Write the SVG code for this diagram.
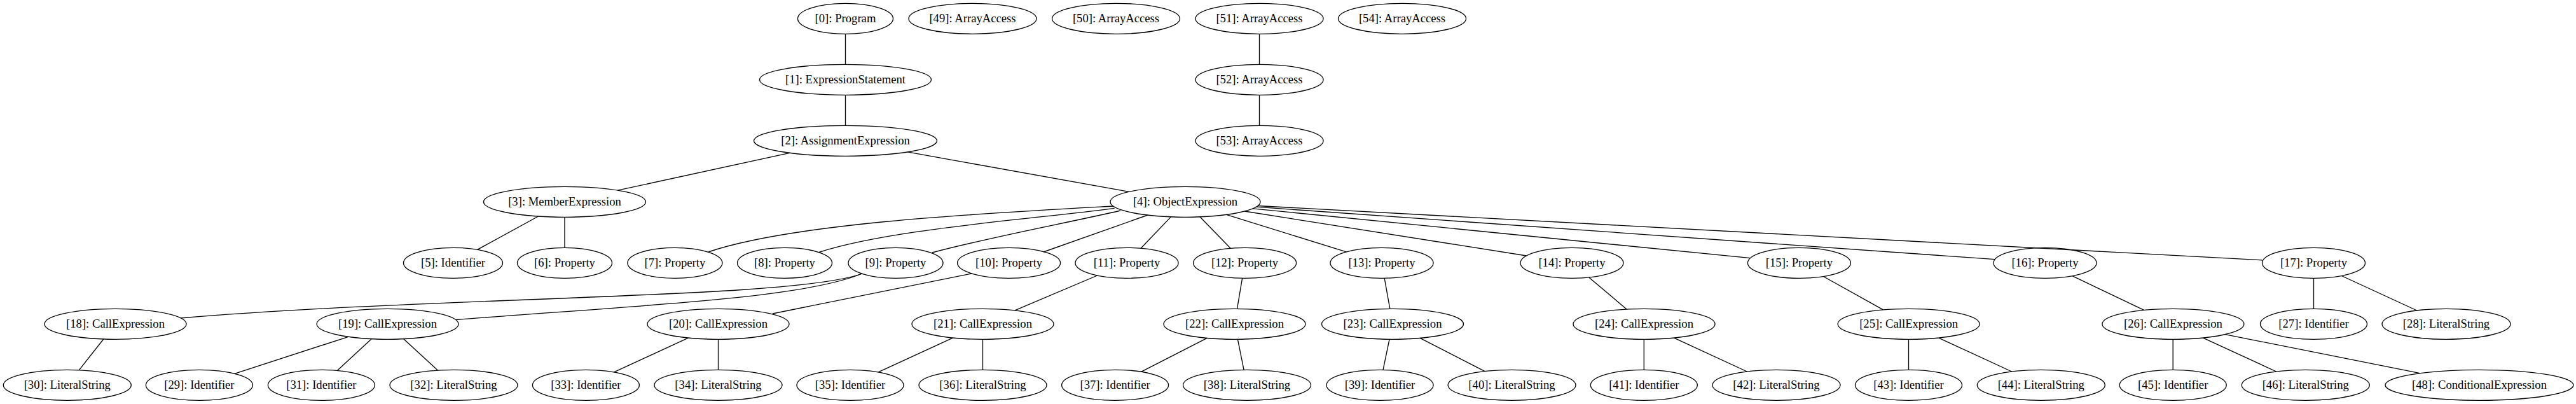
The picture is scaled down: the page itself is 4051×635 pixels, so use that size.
<svg xmlns="http://www.w3.org/2000/svg" width="4051" height="635" viewBox="0 0 4051 635">
<style>
ellipse{fill:none;stroke:#000;stroke-width:1.33}
text{font-family:"Liberation Serif","Times New Roman",serif;font-size:18.67px;text-anchor:middle;fill:#000}
#edges path{fill:none;stroke:#000;stroke-width:1.33}
</style>
<rect x="0" y="0" width="4051" height="635" fill="#fff"/>
<g id="edges">
<path d="M1329.5,53.3L1329.5,101.3"/>
<path d="M1329.5,149.3L1329.5,197.3"/>
<path d="M1242,240.3L971.4,299.2"/>
<path d="M1427.4,238.9L1775.5,301.4"/>
<path d="M1980.5,53.3L1980.5,101.3"/>
<path d="M1980.5,149.3L1980.5,197.3"/>
<path d="M846.5,340L750.7,392.4"/>
<path d="M888,341.3L888,389.3"/>
<path d="M1751,324C1550,335 1250,350 1114,396"/>
<path d="M1752.6,327.3C1620,345 1400,360 1288,396.5"/>
<path d="M1762,331C1680,350 1560,372 1466,397"/>
<path d="M1805,338L1641,396"/>
<path d="M1841.4,340.9L1794.1,390.2"/>
<path d="M1887,340.8L1935.1,390.2"/>
<path d="M1928.6,337.4L2117.1,395.9"/>
<path d="M1957.2,332L2400.5,402"/>
<path d="M1970,327.8L2752.6,405.7"/>
<path d="M1975.4,325.2L3137.2,407.7"/>
<path d="M1978,323.5L3558.8,409"/>
<path d="M1355.7,430C1250,470 700,465 284,500"/>
<path d="M1355.7,430C1260,470 1000,480 717,502.5"/>
<path d="M1528,430L1215,493"/>
<path d="M1725.6,433L1596,487.9"/>
<path d="M1953.6,437.3L1945.5,485.3"/>
<path d="M2177.2,437.3L2185.8,485.3"/>
<path d="M2498.8,436L2558,486"/>
<path d="M2867.4,434.5L2961.4,486.9"/>
<path d="M3258.8,433.7L3371.5,487.4"/>
<path d="M3638.5,437.3L3638.5,485.3"/>
<path d="M3682.3,433.5L3800.7,488"/>
<path d="M162.8,533L124.4,581.7"/>
<path d="M547.8,529.3L368.9,587.3"/>
<path d="M584.2,532.7L530.3,582.4"/>
<path d="M634.8,532.7L688.3,582.1"/>
<path d="M1082.3,531.1L965.6,584.9"/>
<path d="M1129.5,533.3L1129.5,581.3"/>
<path d="M1498.3,531.1L1381.3,584.9"/>
<path d="M1545.5,533.3L1545.5,581.3"/>
<path d="M1898.2,531.4L1794.6,584.4"/>
<path d="M1946.4,533.3L1956.1,581.3"/>
<path d="M2185,533.3L2175,581.3"/>
<path d="M2233.2,531.4L2335,583.6"/>
<path d="M2585.3,533.3L2585.3,581.3"/>
<path d="M2632.6,531.1L2747.3,584"/>
<path d="M3001.5,533.3L3001.5,581.3"/>
<path d="M3048.8,531.1L3163.6,584"/>
<path d="M3417.2,533.3L3417.2,581.3"/>
<path d="M3464.6,531.1L3579.6,584"/>
<path d="M3499.2,525.6L3805.6,586.7"/>
</g>
<g id="n0"><ellipse cx="1329.5" cy="29.3" rx="75" ry="24"/><text x="1329.5" y="34.9">[0]: Program</text></g>
<g id="n49"><ellipse cx="1529.5" cy="29.3" rx="100.5" ry="24"/><text x="1529.5" y="34.9">[49]: ArrayAccess</text></g>
<g id="n50"><ellipse cx="1755" cy="29.3" rx="100.5" ry="24"/><text x="1755" y="34.9">[50]: ArrayAccess</text></g>
<g id="n51"><ellipse cx="1980.5" cy="29.3" rx="100.5" ry="24"/><text x="1980.5" y="34.9">[51]: ArrayAccess</text></g>
<g id="n54"><ellipse cx="2205" cy="29.3" rx="100.5" ry="24"/><text x="2205" y="34.9">[54]: ArrayAccess</text></g>
<g id="n1"><ellipse cx="1329.5" cy="125.3" rx="135" ry="24"/><text x="1329.5" y="130.9">[1]: ExpressionStatement</text></g>
<g id="n52"><ellipse cx="1980.5" cy="125.3" rx="100.5" ry="24"/><text x="1980.5" y="130.9">[52]: ArrayAccess</text></g>
<g id="n2"><ellipse cx="1329.5" cy="221.3" rx="144" ry="24"/><text x="1329.5" y="226.9">[2]: AssignmentExpression</text></g>
<g id="n53"><ellipse cx="1980.5" cy="221.3" rx="100.5" ry="24"/><text x="1980.5" y="226.9">[53]: ArrayAccess</text></g>
<g id="n3"><ellipse cx="888" cy="317.3" rx="127.5" ry="24"/><text x="888" y="322.9">[3]: MemberExpression</text></g>
<g id="n4"><ellipse cx="1864" cy="317.3" rx="118" ry="24"/><text x="1864" y="322.9">[4]: ObjectExpression</text></g>
<g id="n5"><ellipse cx="712.5" cy="413.3" rx="78" ry="24"/><text x="712.5" y="418.9">[5]: Identifier</text></g>
<g id="n6"><ellipse cx="888" cy="413.3" rx="74.5" ry="24"/><text x="888" y="418.9">[6]: Property</text></g>
<g id="n7"><ellipse cx="1061.4" cy="413.3" rx="74.5" ry="24"/><text x="1061.4" y="418.9">[7]: Property</text></g>
<g id="n8"><ellipse cx="1234" cy="413.3" rx="74.5" ry="24"/><text x="1234" y="418.9">[8]: Property</text></g>
<g id="n9"><ellipse cx="1408.5" cy="413.3" rx="74.5" ry="24"/><text x="1408.5" y="418.9">[9]: Property</text></g>
<g id="n10"><ellipse cx="1586.6" cy="413.3" rx="81" ry="24"/><text x="1586.6" y="418.9">[10]: Property</text></g>
<g id="n11"><ellipse cx="1772" cy="413.3" rx="81" ry="24"/><text x="1772" y="418.9">[11]: Property</text></g>
<g id="n12"><ellipse cx="1957.6" cy="413.3" rx="81" ry="24"/><text x="1957.6" y="418.9">[12]: Property</text></g>
<g id="n13"><ellipse cx="2173" cy="413.3" rx="81" ry="24"/><text x="2173" y="418.9">[13]: Property</text></g>
<g id="n14"><ellipse cx="2472" cy="413.3" rx="81" ry="24"/><text x="2472" y="418.9">[14]: Property</text></g>
<g id="n15"><ellipse cx="2829.4" cy="413.3" rx="81" ry="24"/><text x="2829.4" y="418.9">[15]: Property</text></g>
<g id="n16"><ellipse cx="3216" cy="413.3" rx="81" ry="24"/><text x="3216" y="418.9">[16]: Property</text></g>
<g id="n17"><ellipse cx="3638.5" cy="413.3" rx="81" ry="24"/><text x="3638.5" y="418.9">[17]: Property</text></g>
<g id="n18"><ellipse cx="181.5" cy="509.3" rx="111.5" ry="24"/><text x="181.5" y="514.9">[18]: CallExpression</text></g>
<g id="n19"><ellipse cx="609.5" cy="509.3" rx="111.5" ry="24"/><text x="609.5" y="514.9">[19]: CallExpression</text></g>
<g id="n20"><ellipse cx="1129.5" cy="509.3" rx="111.5" ry="24"/><text x="1129.5" y="514.9">[20]: CallExpression</text></g>
<g id="n21"><ellipse cx="1545.5" cy="509.3" rx="111.5" ry="24"/><text x="1545.5" y="514.9">[21]: CallExpression</text></g>
<g id="n22"><ellipse cx="1941.5" cy="509.3" rx="111.5" ry="24"/><text x="1941.5" y="514.9">[22]: CallExpression</text></g>
<g id="n23"><ellipse cx="2190" cy="509.3" rx="111.5" ry="24"/><text x="2190" y="514.9">[23]: CallExpression</text></g>
<g id="n24"><ellipse cx="2585.5" cy="509.3" rx="111.5" ry="24"/><text x="2585.5" y="514.9">[24]: CallExpression</text></g>
<g id="n25"><ellipse cx="3001.6" cy="509.3" rx="111.5" ry="24"/><text x="3001.6" y="514.9">[25]: CallExpression</text></g>
<g id="n26"><ellipse cx="3417.4" cy="509.3" rx="111.5" ry="24"/><text x="3417.4" y="514.9">[26]: CallExpression</text></g>
<g id="n27"><ellipse cx="3638.5" cy="509.3" rx="84" ry="24"/><text x="3638.5" y="514.9">[27]: Identifier</text></g>
<g id="n28"><ellipse cx="3847" cy="509.3" rx="101" ry="24"/><text x="3847" y="514.9">[28]: LiteralString</text></g>
<g id="n30"><ellipse cx="105.8" cy="605.3" rx="100.5" ry="24"/><text x="105.8" y="610.9">[30]: LiteralString</text></g>
<g id="n29"><ellipse cx="313.4" cy="605.3" rx="84" ry="24"/><text x="313.4" y="610.9">[29]: Identifier</text></g>
<g id="n31"><ellipse cx="505.4" cy="605.3" rx="84" ry="24"/><text x="505.4" y="610.9">[31]: Identifier</text></g>
<g id="n32"><ellipse cx="713.5" cy="605.3" rx="100.5" ry="24"/><text x="713.5" y="610.9">[32]: LiteralString</text></g>
<g id="n33"><ellipse cx="921.4" cy="605.3" rx="84" ry="24"/><text x="921.4" y="610.9">[33]: Identifier</text></g>
<g id="n34"><ellipse cx="1129.5" cy="605.3" rx="100.5" ry="24"/><text x="1129.5" y="610.9">[34]: LiteralString</text></g>
<g id="n35"><ellipse cx="1337" cy="605.3" rx="84" ry="24"/><text x="1337" y="610.9">[35]: Identifier</text></g>
<g id="n36"><ellipse cx="1545.5" cy="605.3" rx="100.5" ry="24"/><text x="1545.5" y="610.9">[36]: LiteralString</text></g>
<g id="n37"><ellipse cx="1753.6" cy="605.3" rx="84" ry="24"/><text x="1753.6" y="610.9">[37]: Identifier</text></g>
<g id="n38"><ellipse cx="1961" cy="605.3" rx="100.5" ry="24"/><text x="1961" y="610.9">[38]: LiteralString</text></g>
<g id="n39"><ellipse cx="2170" cy="605.3" rx="84" ry="24"/><text x="2170" y="610.9">[39]: Identifier</text></g>
<g id="n40"><ellipse cx="2377.5" cy="605.3" rx="100.5" ry="24"/><text x="2377.5" y="610.9">[40]: LiteralString</text></g>
<g id="n41"><ellipse cx="2585.3" cy="605.3" rx="84" ry="24"/><text x="2585.3" y="610.9">[41]: Identifier</text></g>
<g id="n42"><ellipse cx="2793.5" cy="605.3" rx="100.5" ry="24"/><text x="2793.5" y="610.9">[42]: LiteralString</text></g>
<g id="n43"><ellipse cx="3001.5" cy="605.3" rx="84" ry="24"/><text x="3001.5" y="610.9">[43]: Identifier</text></g>
<g id="n44"><ellipse cx="3209.8" cy="605.3" rx="100.5" ry="24"/><text x="3209.8" y="610.9">[44]: LiteralString</text></g>
<g id="n45"><ellipse cx="3417.2" cy="605.3" rx="84" ry="24"/><text x="3417.2" y="610.9">[45]: Identifier</text></g>
<g id="n46"><ellipse cx="3625.8" cy="605.3" rx="100.5" ry="24"/><text x="3625.8" y="610.9">[46]: LiteralString</text></g>
<g id="n48"><ellipse cx="3899" cy="605.3" rx="148" ry="24"/><text x="3899" y="610.9">[48]: ConditionalExpression</text></g>
</svg>
